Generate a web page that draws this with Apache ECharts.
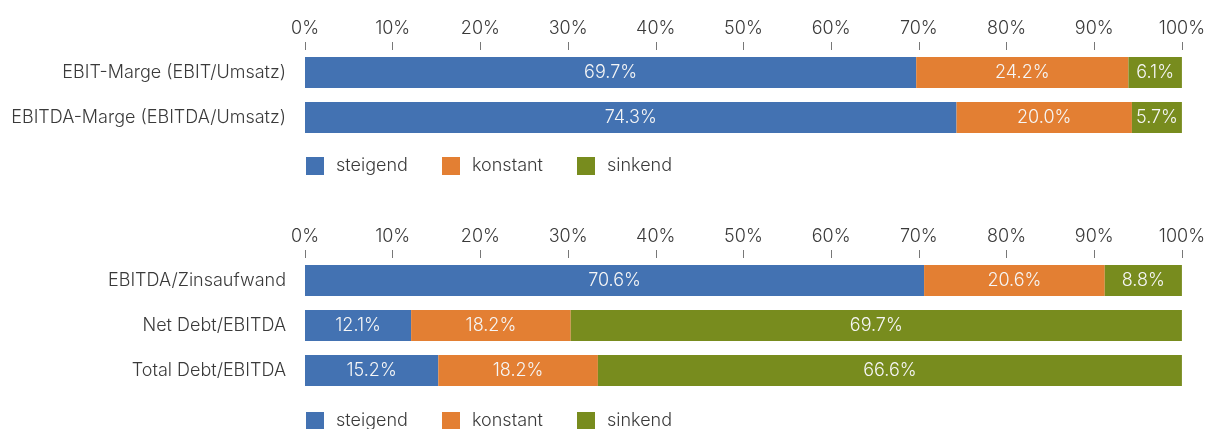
<!DOCTYPE html>
<html>
<head>
<meta charset="utf-8">
<script src="https://cdn.jsdelivr.net/npm/echarts@6/dist/echarts.min.js"></script>
<style>
  html, body { margin: 0; padding: 0; background: #fff; }
  #chart { width: 1208px; height: 429px; }
</style>
</head>
<body>
<div id="chart"></div>
<script>
// Margin indicators (top panel)
const marginCategories = ['EBIT-Marge (EBIT/Umsatz)', 'EBITDA-Marge (EBITDA/Umsatz)'];
const marginSteigend = [69.7, 74.3];
const marginKonstant = [24.2, 20.0];
const marginSinkend = [6.1, 5.7];

// Debt / coverage indicators (bottom panel)
const debtCategories = ['EBITDA/Zinsaufwand', 'Net Debt/EBITDA', 'Total Debt/EBITDA'];
const debtSteigend = [70.6, 12.1, 15.2];
const debtKonstant = [20.6, 18.2, 18.2];
const debtSinkend = [8.8, 69.7, 66.6];

const seriesNames = ['steigend', 'konstant', 'sinkend'];
const tickLabels = ['0%', '10%', '20%', '30%', '40%', '50%', '60%', '70%', '80%', '90%', '100%'];

const COLORS = ['#4372B2', '#E37F33', '#788C1E'];
const FONT = 'Inter';
const WEIGHT = 300;
const SIZE = 18;
const TEXT = '#3a3a3a';

// x positions of the three legend entries
const LEGEND_X = [306, 442, 577];

const chart = echarts.init(document.getElementById('chart'));

function xAxis(gridIndex) {
  return {
    type: 'value', gridIndex, position: 'top', min: 0, max: 100, interval: 10,
    axisLine: { show: false },
    axisTick: { show: true, length: 8, lineStyle: { color: '#777', width: 1 } },
    splitLine: { show: false },
    axisLabel: {
      margin: 12, color: TEXT, fontFamily: FONT, fontWeight: WEIGHT, fontSize: SIZE,
      formatter: v => tickLabels[Math.round(v / 10)]
    }
  };
}

function yAxis(gridIndex, data) {
  return {
    type: 'category', gridIndex, data, inverse: true,
    axisLine: { show: false }, axisTick: { show: false },
    axisLabel: { margin: 19, color: TEXT, fontFamily: FONT, fontWeight: WEIGHT, fontSize: SIZE }
  };
}

function bars(idx, values, name) {
  return {
    type: 'bar', name, stack: 's' + idx, xAxisIndex: idx, yAxisIndex: idx,
    data: values, barWidth: 31, itemStyle: { color: COLORS[seriesNames.indexOf(name)] },
    label: {
      show: true, position: 'inside', color: '#f6f6f6',
      fontFamily: FONT, fontWeight: WEIGHT, fontSize: SIZE,
      formatter: p => p.value.toFixed(1) + '%'
    }
  };
}

function legends(top) {
  return seriesNames.map((name, i) => ({
    left: LEGEND_X[i], top, padding: 0, itemWidth: 18, itemHeight: 18, icon: 'rect',
    data: [name],
    textStyle: { color: TEXT, fontFamily: FONT, fontWeight: WEIGHT, fontSize: SIZE,
                 padding: [0, 0, 0, 7] }
  }));
}

chart.setOption({
  animation: false,
  grid: [
    { left: 305, right: 26, top: 50, height: 90 },
    { left: 305, right: 26, top: 258, height: 135 }
  ],
  xAxis: [xAxis(0), xAxis(1)],
  yAxis: [yAxis(0, marginCategories), yAxis(1, debtCategories)],
  legend: [...legends(157), ...legends(412)],
  series: [
    bars(0, marginSteigend, 'steigend'),
    bars(0, marginKonstant, 'konstant'),
    bars(0, marginSinkend, 'sinkend'),
    bars(1, debtSteigend, 'steigend'),
    bars(1, debtKonstant, 'konstant'),
    bars(1, debtSinkend, 'sinkend')
  ]
});
</script>
</body>
</html>
